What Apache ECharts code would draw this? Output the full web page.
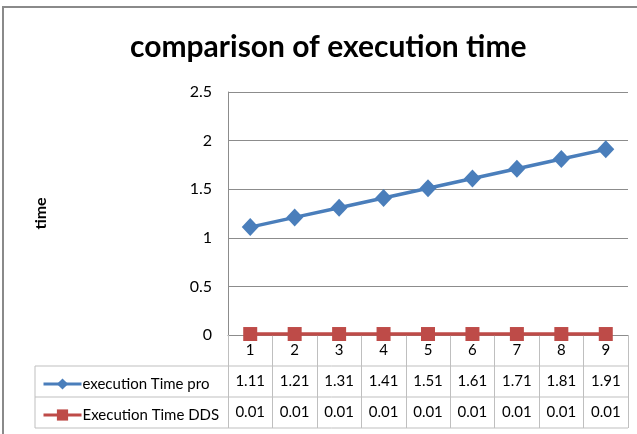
<!DOCTYPE html>
<html>
<head>
<meta charset="utf-8">
<script src="https://cdn.jsdelivr.net/npm/echarts@6/dist/echarts.min.js"></script>
<style>
  html, body { margin: 0; padding: 0; background: #fff; }
  #chart { width: 637px; height: 434px; }
</style>
</head>
<body>
<div id="chart"></div>
<script>
// Run numbers on the category axis
const categories = ['1', '2', '3', '4', '5', '6', '7', '8', '9'];
// Execution times per run
const timePro = [1.11, 1.21, 1.31, 1.41, 1.51, 1.61, 1.71, 1.81, 1.91];
const timeDDS = [0.01, 0.01, 0.01, 0.01, 0.01, 0.01, 0.01, 0.01, 0.01];
const seriesNames = ['execution Time pro', 'Execution Time DDS'];

const FONT = 'Lato, "Liberation Sans", sans-serif';
const chart = echarts.init(document.getElementById('chart'), null, { renderer: 'canvas' });

// Plot area bounds (pixels) and table rows below it
const G = { left: 228, right: 9, top: 92, bottom: 99 };
const plotRight = 637 - G.right;
const axisY = 434 - G.bottom;
const rowH = 31;
const tableLeft = 35;
const lineColor = '#bfbfbf';

const tableLines = [];
for (let r = 1; r <= 3; r++) {
  tableLines.push({
    type: 'line',
    shape: { x1: tableLeft, y1: axisY + rowH * r, x2: plotRight, y2: axisY + rowH * r },
    style: { stroke: lineColor, lineWidth: 1 }, silent: true
  });
}
tableLines.push({
  type: 'line',
  shape: { x1: tableLeft, y1: axisY + rowH, x2: tableLeft, y2: axisY + rowH * 3 },
  style: { stroke: lineColor, lineWidth: 1 }, silent: true
});

chart.setOption({
  animation: false,
  backgroundColor: '#fff',
  textStyle: { fontFamily: FONT },
  title: {
    text: 'comparison of execution time',
    left: 125,
    top: 27,
    textStyle: { fontFamily: FONT, fontSize: 30, fontWeight: 'bold', color: '#000' }
  },
  legend: {
    orient: 'vertical',
    left: 37,
    top: axisY + rowH + 3,
    itemWidth: 38,
    itemHeight: 14,
    itemGap: 11,
    lineStyle: { width: 3 },
    textStyle: { fontFamily: FONT, fontSize: 15, color: '#000', lineHeight: 20, padding: [0, 0, 0, -4] },
    data: seriesNames
  },
  grid: { left: G.left, right: G.right, top: G.top, bottom: G.bottom, containLabel: false },
  xAxis: {
    type: 'category',
    data: categories,
    boundaryGap: true,
    axisLine: { show: true, lineStyle: { color: '#8c8c8c', width: 1 } },
    axisTick: { show: true, interval: 0, alignWithLabel: false, inside: false, length: rowH * 3, lineStyle: { color: lineColor } },
    axisLabel: {
      interval: 0,
      margin: 0,
      formatter: (v, i) => `{a|${v}}\n{a|${timePro[i].toFixed(2)}}\n{a|${timeDDS[i].toFixed(2)}}`,
      rich: { a: { fontFamily: FONT, fontSize: 15, lineHeight: rowH, color: '#000' } }
    },
    splitLine: { show: false }
  },
  yAxis: {
    type: 'value',
    min: 0,
    max: 2.5,
    interval: 0.5,
    name: 'time',
    nameLocation: 'middle',
    nameRotate: 90,
    nameGap: 179,
    nameTextStyle: { fontFamily: FONT, fontSize: 16, fontWeight: 'bold', color: '#000' },
    axisLine: { show: true, lineStyle: { color: '#8c8c8c', width: 1 } },
    axisTick: { show: false },
    axisLabel: { margin: 16, fontFamily: FONT, fontSize: 16, color: '#000' },
    splitLine: { show: true, lineStyle: { color: '#8c8c8c', width: 1 } }
  },
  graphic: [
    {
      type: 'rect',
      shape: { x: 3, y: 7, width: 700, height: 500 },
      style: { fill: 'none', stroke: '#8a8a8a', lineWidth: 2 },
      silent: true
    }
  ].concat(tableLines),
  series: [
    {
      name: seriesNames[0],
      type: 'line',
      data: timePro,
      symbol: 'diamond',
      symbolSize: [17, 18],
      itemStyle: { color: '#4A7EBB' },
      lineStyle: { color: '#4A7EBB', width: 3.5 }
    },
    {
      name: seriesNames[1],
      type: 'line',
      data: timeDDS,
      symbol: 'rect',
      symbolSize: 14,
      itemStyle: { color: '#BE4B48' },
      lineStyle: { color: '#BE4B48', width: 3.5 }
    }
  ]
});
</script>
</body>
</html>
